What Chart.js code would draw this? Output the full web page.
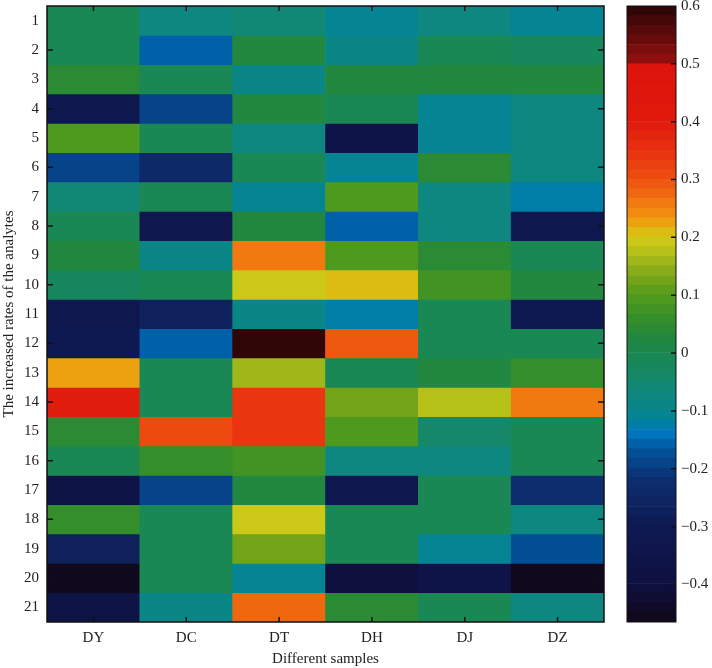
<!DOCTYPE html>
<html>
<head>
<meta charset="utf-8">
<script src="https://cdn.jsdelivr.net/npm/chart.js@4"></script>
<style>
  body { margin: 0; background: #fff; }
  #wrap { position: relative; width: 712px; height: 668px; }
  #heat { position: absolute; left: 0; top: 0; }
  #bar { position: absolute; left: 620px; top: 0; }
</style>
</head>
<body>
<div id="wrap">
  <canvas id="heat" width="620" height="668"></canvas>
  <canvas id="bar" width="92" height="668"></canvas>
</div>
<script>
// muestras (columnas) y analitos (filas)
const samples = ['DY', 'DC', 'DT', 'DH', 'DJ', 'DZ'];
const rows = ['1','2','3','4','5','6','7','8','9','10','11','12','13','14','15','16','17','18','19','20','21'];

// valores, fila 1 a 21
const DY = [0.0, 0.0, 0.04, -0.32, 0.09, -0.19, -0.06, 0.0, 0.02, -0.02, -0.33, -0.30, 0.23, 0.40, 0.04, -0.01, -0.37, 0.06, -0.27, -0.45, -0.38];
const DC = [-0.07, -0.16, 0.0, -0.19, 0.0, -0.24, 0.0, -0.33, -0.09, 0.0, -0.27, -0.16, 0.0, 0.0, 0.31, 0.06, -0.19, 0.0, 0.0, 0.0, -0.09];
const DT = [-0.05, 0.02, -0.09, 0.02, -0.08, 0.0, -0.11, 0.03, 0.26, 0.20, -0.09, 0.59, 0.16, 0.35, 0.35, 0.08, 0.02, 0.20, 0.12, -0.11, 0.28];
const DH = [-0.11, -0.09, 0.02, 0.0, -0.35, -0.11, 0.10, -0.16, 0.09, 0.21, -0.13, 0.30, 0.0, 0.12, 0.10, -0.07, -0.33, 0.0, 0.0, -0.40, 0.04];
const DJ = [-0.08, 0.0, 0.02, -0.10, -0.11, 0.04, -0.08, -0.08, 0.04, 0.08, -0.01, 0.0, 0.03, 0.17, -0.04, -0.07, 0.0, 0.0, -0.11, -0.36, -0.01];
const DZ = [-0.10, -0.03, 0.02, -0.07, -0.07, -0.08, -0.13, -0.33, 0.0, 0.03, -0.30, -0.01, 0.06, 0.26, 0.0, 0.0, -0.22, -0.07, -0.17, -0.46, -0.08];
const columns = [DY, DC, DT, DH, DJ, DZ];

// escala de color
const cbMin = -0.465, cbMax = 0.6, nBands = 64;
const cbTicks = [-0.4, -0.3, -0.2, -0.1, 0, 0.1, 0.2, 0.3, 0.4, 0.5, 0.6];

const anchors = [
  [-0.465, [16, 8, 24]],
  [-0.40, [14, 16, 64]],
  [-0.30, [14, 26, 82]],
  [-0.22, [14, 46, 112]],
  [-0.17, [2, 82, 152]],
  [-0.14, [0, 118, 190]],
  [-0.12, [0, 128, 162]],
  [-0.10, [8, 134, 140]],
  [-0.06, [16, 136, 120]],
  [-0.02, [24, 136, 90]],
  [0.0, [26, 136, 80]],
  [0.03, [36, 136, 60]],
  [0.06, [52, 142, 40]],
  [0.09, [76, 154, 32]],
  [0.12, [106, 160, 24]],
  [0.16, [160, 184, 24]],
  [0.19, [202, 202, 24]],
  [0.215, [226, 184, 16]],
  [0.23, [240, 152, 16]],
  [0.26, [240, 120, 16]],
  [0.30, [238, 80, 16]],
  [0.35, [232, 48, 16]],
  [0.40, [224, 26, 12]],
  [0.495, [220, 20, 12]],
  [0.50, [152, 16, 16]],
  [0.60, [40, 5, 5]]
];

function colormap(v) {
  if (v <= anchors[0][0]) return anchors[0][1];
  for (let i = 1; i < anchors.length; i++) {
    if (v <= anchors[i][0]) {
      const [a, ca] = anchors[i - 1], [b, cb] = anchors[i];
      const t = (v - a) / (b - a);
      return ca.map((c, k) => Math.round(c + (cb[k] - c) * t));
    }
  }
  return anchors[anchors.length - 1][1];
}

const bandStep = (cbMax - cbMin) / nBands;
function colorFor(v) {
  let idx = Math.floor((v - cbMin) / bandStep);
  idx = Math.max(0, Math.min(nBands - 1, idx));
  const c = colormap(cbMin + (idx + 0.5) * bandStep);
  return `rgb(${c[0]},${c[1]},${c[2]})`;
}

const serif = '"Liberation Serif", "DejaVu Serif", serif';

// quitar el relleno automatico de las etiquetas en los extremos
function noEdgePadding(scale) {
  scale.paddingTop = 0; scale.paddingBottom = 0;
  scale.paddingLeft = 0; scale.paddingRight = 0;
}

// marco y marcas hacia dentro
const frameHeat = {
  id: 'frameHeat',
  afterDraw(chart) {
    const { ctx, chartArea: a, scales } = chart;
    ctx.save();
    ctx.strokeStyle = '#111';
    ctx.lineWidth = 1.5;
    ctx.strokeRect(a.left, a.top, a.right - a.left, a.bottom - a.top);
    ctx.beginPath();
    samples.forEach((s, i) => {
      const x = scales.x.getPixelForValue(i);
      ctx.moveTo(x, a.top); ctx.lineTo(x, a.top + 5);
      ctx.moveTo(x, a.bottom); ctx.lineTo(x, a.bottom - 5);
    });
    rows.forEach((r, i) => {
      if ((i + 1) % 2 !== 0) return;
      const y = scales.y.getPixelForValue(i + 0.5);
      ctx.moveTo(a.left, y); ctx.lineTo(a.left + 6, y);
      ctx.moveTo(a.right, y); ctx.lineTo(a.right - 6, y);
    });
    ctx.stroke();
    ctx.restore();
  }
};

new Chart(document.getElementById('heat'), {
  type: 'bar',
  data: {
    labels: samples,
    datasets: rows.map((r, ri) => ({
      label: r,
      data: samples.map(() => 1),
      backgroundColor: columns.map(col => colorFor(col[ri])),
      borderWidth: 0,
      barPercentage: 1,
      categoryPercentage: 1
    }))
  },
  options: {
    responsive: false,
    animation: false,
    layout: { padding: { top: 6, right: 16, left: 0, bottom: 0 } },
    plugins: { legend: { display: false }, tooltip: { enabled: false } },
    scales: {
      x: {
        stacked: true,
        grid: { display: false, drawTicks: false },
        border: { display: false },
        ticks: { color: '#222', font: { family: serif, size: 15 }, padding: 7 },
        title: { display: true, text: 'Different samples', color: '#222', font: { family: serif, size: 15 }, padding: { top: 2, bottom: 0 } },
        afterFit(scale) { scale.height = 46; noEdgePadding(scale); }
      },
      y: {
        stacked: true,
        reverse: true,
        min: 0,
        max: 21,
        grid: { display: false, drawTicks: false },
        border: { display: false },
        afterBuildTicks(scale) { scale.ticks = rows.map((r, i) => ({ value: i + 0.5 })); },
        ticks: {
          color: '#222',
          font: { family: serif, size: 15 },
          padding: 8,
          callback: (v) => String(Math.round(v + 0.5))
        },
        title: { display: true, text: 'The increased rates of the analytes', color: '#222', font: { family: serif, size: 15 }, padding: 0 },
        afterFit(scale) { scale.width = 47; noEdgePadding(scale); }
      }
    }
  },
  plugins: [frameHeat]
});

// barra de color
const frameBar = {
  id: 'frameBar',
  afterDraw(chart) {
    const { ctx, chartArea: a, scales } = chart;
    ctx.save();
    ctx.strokeStyle = '#111';
    ctx.lineWidth = 1;
    ctx.strokeRect(a.left, a.top, a.right - a.left, a.bottom - a.top);
    ctx.lineWidth = 1.5;
    ctx.beginPath();
    cbTicks.forEach(t => {
      if (t >= cbMax) return;
      const y = scales.y.getPixelForValue(t);
      ctx.moveTo(a.right, y); ctx.lineTo(a.right - 5, y);
    });
    ctx.stroke();
    ctx.restore();
  }
};

const bandDatasets = [];
for (let i = 0; i < nBands; i++) {
  const lo = cbMin + i * bandStep;
  bandDatasets.push({
    data: [[lo, lo + bandStep]],
    backgroundColor: colorFor(lo + bandStep / 2),
    borderWidth: 0,
    barPercentage: 1,
    categoryPercentage: 1,
    grouped: false
  });
}

new Chart(document.getElementById('bar'), {
  type: 'bar',
  data: { labels: ['c'], datasets: bandDatasets },
  options: {
    responsive: false,
    animation: false,
    layout: { padding: { top: 6, bottom: 46, left: 7, right: 0 } },
    plugins: { legend: { display: false }, tooltip: { enabled: false } },
    scales: {
      x: { display: false },
      y: {
        position: 'right',
        min: cbMin,
        max: cbMax,
        grid: { display: false, drawTicks: false },
        border: { display: false },
        afterBuildTicks(scale) { scale.ticks = cbTicks.map(v => ({ value: v })); },
        ticks: {
          color: '#222',
          font: { family: serif, size: 15 },
          padding: 5,
          callback: (v) => {
            const r = Math.round(v * 10) / 10;
            return r === 0 ? '0' : (r < 0 ? '\u2212' + String(-r) : String(r));
          }
        },
        afterFit(scale) { scale.width = 36; noEdgePadding(scale); }
      }
    }
  },
  plugins: [frameBar]
});
</script>
</body>
</html>
